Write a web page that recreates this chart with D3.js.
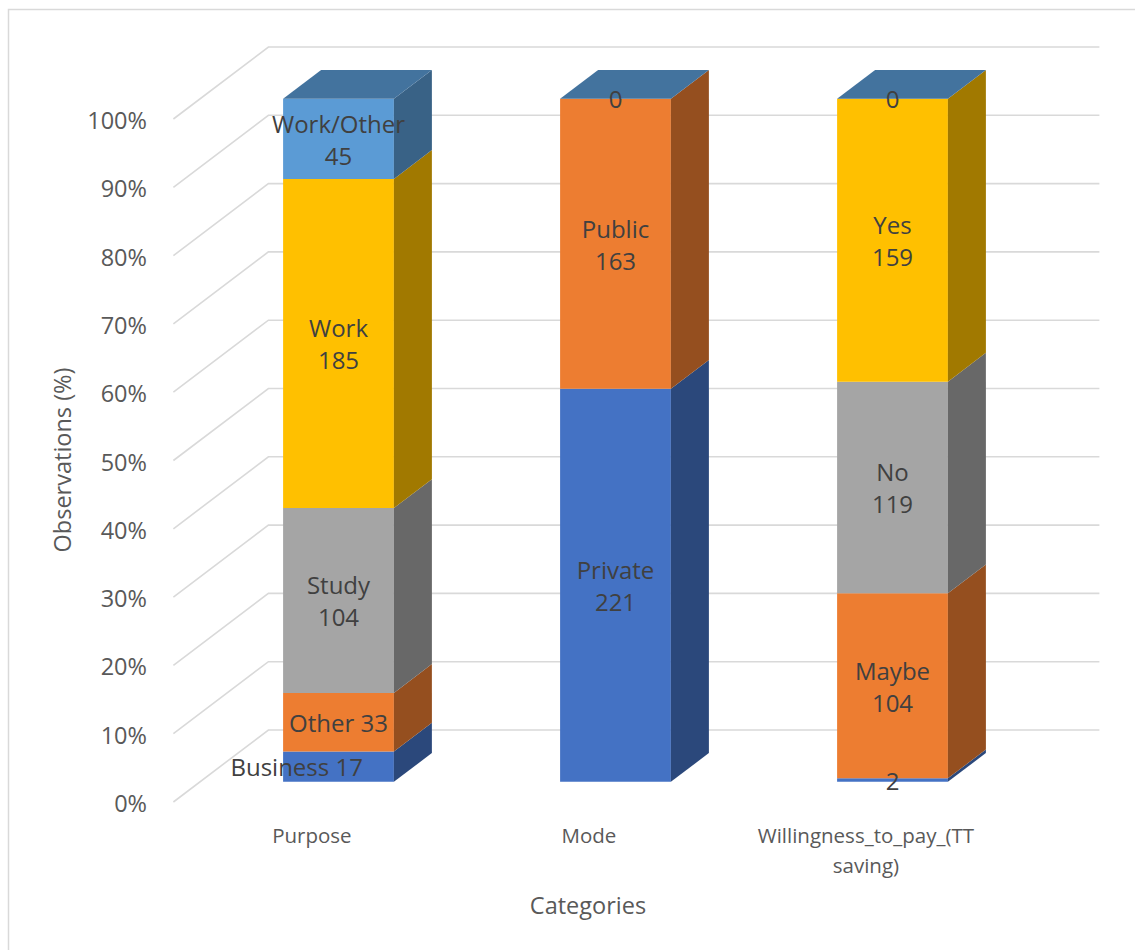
<!DOCTYPE html>
<html><head><meta charset="utf-8">
<script src="https://cdn.jsdelivr.net/npm/d3@7"></script>
<style>body{margin:0;background:#fff}svg{display:block}</style>
</head><body>
<svg id="chart" width="1135" height="950"></svg>
<script>
// ---- data ----
const categories = ["Purpose", "Mode", "Willingness_to_pay_(TT saving)"];
const seriesNames = ["S1", "S2", "S3", "S4", "S5"];
const s1Labels = ["Business", "Private", ""];
const s1Values = [17, 221, 2];
const s2Labels = ["Other", "Public", "Maybe"];
const s2Values = [33, 163, 104];
const s3Labels = ["Study", null, "No"];
const s3Values = [104, 0, 119];
const s4Labels = ["Work", null, "Yes"];
const s4Values = [185, 0, 159];
const s5Labels = ["Work/Other", "", ""];
const s5Values = [45, 0, 0];
const seriesColors = ["#4472C4", "#ED7D31", "#A5A5A5", "#FFC000", "#5B9BD5"];
const yTicks = [0, 10, 20, 30, 40, 50, 60, 70, 80, 90, 100];

const allValues = [s1Values, s2Values, s3Values, s4Values, s5Values];
const allLabels = [s1Labels, s2Labels, s3Labels, s4Labels, s5Labels];

// ---- layout ----
const svg = d3.select("#chart");
const FONT = "'Open Sans', 'Noto Sans', sans-serif";
const DX = 95, DY = 72;      // depth projection
const T1 = 0.28, T2 = 0.68;  // bar front/back depth

const x = d3.scaleBand().domain(categories).range([173.4, 1004.4]).paddingInner(0.6).paddingOuter(0.3);
const y = d3.scaleLinear().domain([0, 100]).range([802, 119]);
const P = (xf, v, t) => [xf + t * DX, y(v) - t * DY];

// border
svg.append("rect").attr("x", 8.5).attr("y", 9.5).attr("width", 1135).attr("height", 950)
  .attr("fill", "none").attr("stroke", "#d9d9d9").attr("stroke-width", 1.5);

// gridlines (side wall diagonals + back wall)
const xl = x.range()[0], xr = x.range()[1];
const grid = svg.append("g").attr("stroke", "#d9d9d9").attr("stroke-width", 1.6).attr("fill", "none");
yTicks.forEach(t => {
  const a = P(xl, t, 0), b = P(xl, t, 1), c = P(xr, t, 1);
  grid.append("path").attr("d", `M${a[0]},${a[1]}L${b[0]},${b[1]}L${c[0]},${c[1]}`);
});

// y tick labels
svg.append("g").selectAll("text").data(yTicks).join("text")
  .attr("x", 147).attr("y", d => y(d) + 1).attr("text-anchor", "end").attr("dominant-baseline", "central")
  .attr("font-family", FONT).attr("font-size", 23.5).attr("fill", "#595959").text(d => d + "%");

// stacked percentage data
const stacks = categories.map((c, ci) => {
  const total = d3.sum(allValues, s => s[ci]);
  let cum = 0;
  return allValues.map((s, si) => {
    const v = s[ci];
    const pct = v / total * 100;
    const seg = { cat: c, ci, si, v, y0: cum, y1: cum + pct, label: allLabels[si][ci] };
    cum += pct;
    return seg;
  });
});

const shade = (col, k) => { const c = d3.rgb(col); return d3.rgb(c.r * k, c.g * k, c.b * k).formatHex(); };
const poly = pts => "M" + pts.map(p => p.join(",")).join("L") + "Z";

const bars = svg.append("g");
stacks.forEach(st => {
  const x0 = x(st[0].cat), x1 = x0 + x.bandwidth();
  st.forEach(seg => {
    const col = seriesColors[seg.si];
    const g = bars.append("g");
    if (seg.v > 0) {
      g.append("path").attr("fill", col).attr("d", poly([P(x0, seg.y0, T1), P(x1, seg.y0, T1), P(x1, seg.y1, T1), P(x0, seg.y1, T1)]));
      g.append("path").attr("fill", shade(col, 0.63)).attr("d", poly([P(x1, seg.y0, T1), P(x1, seg.y0, T2), P(x1, seg.y1, T2), P(x1, seg.y1, T1)]));
    }
  });
  const top = st[st.length - 1];
  const tc = shade(seriesColors[top.si], 0.74);
  bars.append("path").attr("fill", tc).attr("d", poly([P(x0, 100, T1), P(x1, 100, T1), P(x1, 100, T2), P(x0, 100, T2)]));
});

// data labels
const lab = svg.append("g").attr("font-family", FONT).attr("font-size", 24).attr("fill", "#404040").attr("text-anchor", "middle");
stacks.forEach(st => {
  const x0 = x(st[0].cat), bw = x.bandwidth();
  st.forEach(seg => {
    if (seg.label === null) return;
    const cx = x0 + bw / 2 + T1 * DX;
    const cy = (y(seg.y0) + y(seg.y1)) / 2 - T1 * DY;
    const h = y(seg.y0) - y(seg.y1);
    const t = lab.append("text").attr("dominant-baseline", "central");
    if (seg.label === "") {
      t.attr("x", cx).attr("y", cy).text(seg.v);
    } else if (h < 60) {
      t.attr("x", cx).attr("y", cy).text(seg.label + " " + seg.v);
      const w = t.node().getComputedTextLength();
      if (w > bw - 6) t.attr("text-anchor", "end").attr("x", x0 + T1 * DX + bw - 31);
    } else {
      t.append("tspan").attr("x", cx).attr("y", cy - 16).text(seg.label);
      t.append("tspan").attr("x", cx).attr("y", cy + 16).text(seg.v);
    }
  });
});

// category labels (wrapped)
const catG = svg.append("g").attr("font-family", FONT).attr("font-size", 20.5).attr("fill", "#595959").attr("text-anchor", "middle");
categories.forEach(c => {
  const cx = x(c) + x.bandwidth() / 2;
  const t = catG.append("text").attr("dominant-baseline", "central");
  const words = c.split(" ");
  let line = [], lineNo = 0;
  let ts = t.append("tspan").attr("x", cx).attr("y", 835);
  words.forEach(w => {
    line.push(w); ts.text(line.join(" "));
    if (ts.node().getComputedTextLength() > 250 && line.length > 1) {
      line.pop(); ts.text(line.join(" "));
      line = [w]; lineNo++;
      ts = t.append("tspan").attr("x", cx).attr("y", 835 + lineNo * 30).text(w);
    }
  });
});

// axis titles
svg.append("text").attr("transform", "translate(62,460) rotate(-90)").attr("text-anchor", "middle")
  .attr("dominant-baseline", "central").attr("font-family", FONT).attr("font-size", 23.5).attr("fill", "#595959")
  .text("Observations (%)");
svg.append("text").attr("x", 588).attr("y", 905).attr("text-anchor", "middle").attr("dominant-baseline", "central")
  .attr("font-family", FONT).attr("font-size", 23.5).attr("fill", "#595959").text("Categories");
</script>
</body></html>
